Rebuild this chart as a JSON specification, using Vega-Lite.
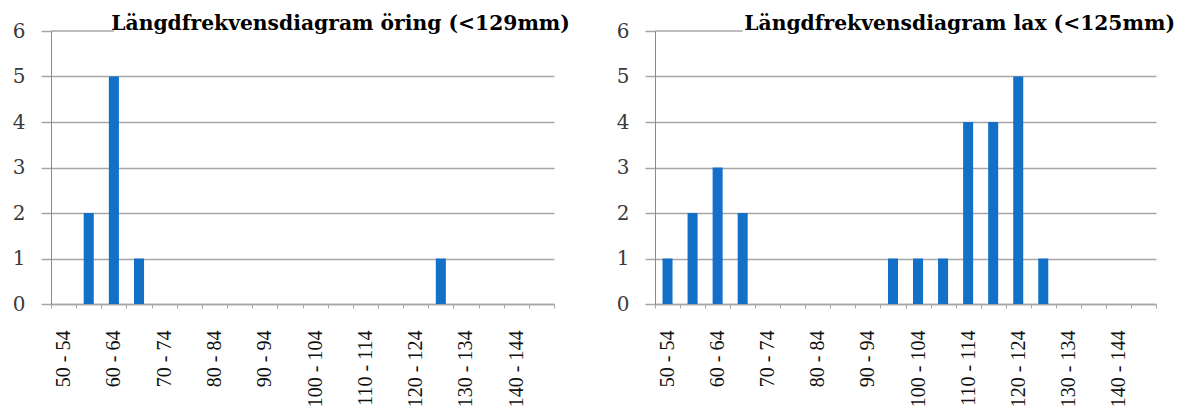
{
  "$schema": "https://vega.github.io/schema/vega-lite/v6.json",
  "background": "white",
  "padding": {"left": 12, "top": 13, "right": 0, "bottom": 0},
  "spacing": 46,
  "datasets": {
    "fisk": [
      {"art": "öring", "range": "50 - 54", "antal": 0},
      {"art": "öring", "range": "55 - 59", "antal": 2},
      {"art": "öring", "range": "60 - 64", "antal": 5},
      {"art": "öring", "range": "65 - 69", "antal": 1},
      {"art": "öring", "range": "70 - 74", "antal": 0},
      {"art": "öring", "range": "75 - 79", "antal": 0},
      {"art": "öring", "range": "80 - 84", "antal": 0},
      {"art": "öring", "range": "85 - 89", "antal": 0},
      {"art": "öring", "range": "90 - 94", "antal": 0},
      {"art": "öring", "range": "95 - 99", "antal": 0},
      {"art": "öring", "range": "100 - 104", "antal": 0},
      {"art": "öring", "range": "105 - 109", "antal": 0},
      {"art": "öring", "range": "110 - 114", "antal": 0},
      {"art": "öring", "range": "115 - 119", "antal": 0},
      {"art": "öring", "range": "120 - 124", "antal": 0},
      {"art": "öring", "range": "125 - 129", "antal": 1},
      {"art": "öring", "range": "130 - 134", "antal": 0},
      {"art": "öring", "range": "135 - 139", "antal": 0},
      {"art": "öring", "range": "140 - 144", "antal": 0},
      {"art": "öring", "range": "145 - 149", "antal": 0},
      {"art": "lax", "range": "50 - 54", "antal": 1},
      {"art": "lax", "range": "55 - 59", "antal": 2},
      {"art": "lax", "range": "60 - 64", "antal": 3},
      {"art": "lax", "range": "65 - 69", "antal": 2},
      {"art": "lax", "range": "70 - 74", "antal": 0},
      {"art": "lax", "range": "75 - 79", "antal": 0},
      {"art": "lax", "range": "80 - 84", "antal": 0},
      {"art": "lax", "range": "85 - 89", "antal": 0},
      {"art": "lax", "range": "90 - 94", "antal": 0},
      {"art": "lax", "range": "95 - 99", "antal": 1},
      {"art": "lax", "range": "100 - 104", "antal": 1},
      {"art": "lax", "range": "105 - 109", "antal": 1},
      {"art": "lax", "range": "110 - 114", "antal": 4},
      {"art": "lax", "range": "115 - 119", "antal": 4},
      {"art": "lax", "range": "120 - 124", "antal": 5},
      {"art": "lax", "range": "125 - 129", "antal": 1},
      {"art": "lax", "range": "130 - 134", "antal": 0},
      {"art": "lax", "range": "135 - 139", "antal": 0},
      {"art": "lax", "range": "140 - 144", "antal": 0},
      {"art": "lax", "range": "145 - 149", "antal": 0}
    ],
    "topp": [{"y": 6}]
  },
  "hconcat": [
    {
      "width": 503,
      "height": 273,
      "title": {"text": "Längdfrekvensdiagram öring (<129mm)", "dx": 99},
      "layer": [
        {
          "data": {"name": "fisk"},
          "transform": [{"filter": "datum.art === 'öring'"}],
          "mark": {"type": "bar", "width": {"band": 0.4}, "color": "#1270c8"},
          "encoding": {
            "x": {"field": "range", "type": "nominal", "sort": null,
              "scale": {"domain": ["50 - 54","55 - 59","60 - 64","65 - 69","70 - 74","75 - 79","80 - 84","85 - 89","90 - 94","95 - 99","100 - 104","105 - 109","110 - 114","115 - 119","120 - 124","125 - 129","130 - 134","135 - 139","140 - 144","145 - 149"], "paddingInner": 0, "paddingOuter": 0}},
            "y": {"field": "antal", "type": "quantitative", "scale": {"domain": [0, 6], "nice": false}}
          }
        },
        {
          "data": {"name": "topp"},
          "mark": {"type": "rule", "color": "#a6a6a6", "strokeWidth": 1.5},
          "encoding": {
            "x": {"datum": "50 - 54", "type": "nominal", "bandPosition": 0},
            "x2": {"datum": "60 - 64"},
            "y": {"field": "y", "type": "quantitative"}
          }
        }
      ]
    },
    {
      "width": 501,
      "height": 273,
      "title": {"text": "Längdfrekvensdiagram lax (<125mm)", "dx": 128},
      "layer": [
        {
          "data": {"name": "fisk"},
          "transform": [{"filter": "datum.art === 'lax'"}],
          "mark": {"type": "bar", "width": {"band": 0.4}, "color": "#1270c8"},
          "encoding": {
            "x": {"field": "range", "type": "nominal", "sort": null,
              "scale": {"domain": ["50 - 54","55 - 59","60 - 64","65 - 69","70 - 74","75 - 79","80 - 84","85 - 89","90 - 94","95 - 99","100 - 104","105 - 109","110 - 114","115 - 119","120 - 124","125 - 129","130 - 134","135 - 139","140 - 144","145 - 149"], "paddingInner": 0, "paddingOuter": 0}},
            "y": {"field": "antal", "type": "quantitative", "scale": {"domain": [0, 6], "nice": false}}
          }
        },
        {
          "data": {"name": "topp"},
          "mark": {"type": "rule", "color": "#a6a6a6", "strokeWidth": 1.5},
          "encoding": {
            "x": {"datum": "50 - 54", "type": "nominal", "bandPosition": 0},
            "x2": {"datum": "65 - 69"},
            "y": {"field": "y", "type": "quantitative"}
          }
        }
      ]
    }
  ],
  "config": {
    "view": {"stroke": null},
    "title": {"font": "DejaVu Serif", "fontSize": 20.3, "fontWeight": "bold", "color": "#000000", "anchor": "start", "offset": -13},
    "axisX": {
      "title": null,
      "labelAngle": -90,
      "labelFont": "Liberation Serif",
      "labelFontSize": 20,
      "labelColor": "#111111",
      "labelExpr": "indexof(['50 - 54','60 - 64','70 - 74','80 - 84','90 - 94','100 - 104','110 - 114','120 - 124','130 - 134','140 - 144'], datum.value) >= 0 ? datum.label : ''",
      "labelOverlap": false,
      "labelPadding": 22,
      "tickBand": "extent",
      "tickSize": 4,
      "tickColor": "#a6a6a6",
      "domainColor": "#a6a6a6",
      "domainWidth": 1.5,
      "grid": false
    },
    "axisY": {
      "title": null,
      "values": [0, 1, 2, 3, 4, 5, 6],
      "grid": true,
      "gridColor": {"condition": {"test": "datum.value === 6", "value": "transparent"}, "value": "#a6a6a6"},
      "gridWidth": 1.5,
      "tickSize": 10,
      "tickColor": "#a6a6a6",
      "tickWidth": 1.5,
      "domainColor": "#8a8a8a",
      "labelFont": "DejaVu Serif",
      "labelFontSize": 20,
      "labelColor": "#3a3a3a",
      "labelPadding": 16
    }
  }
}
